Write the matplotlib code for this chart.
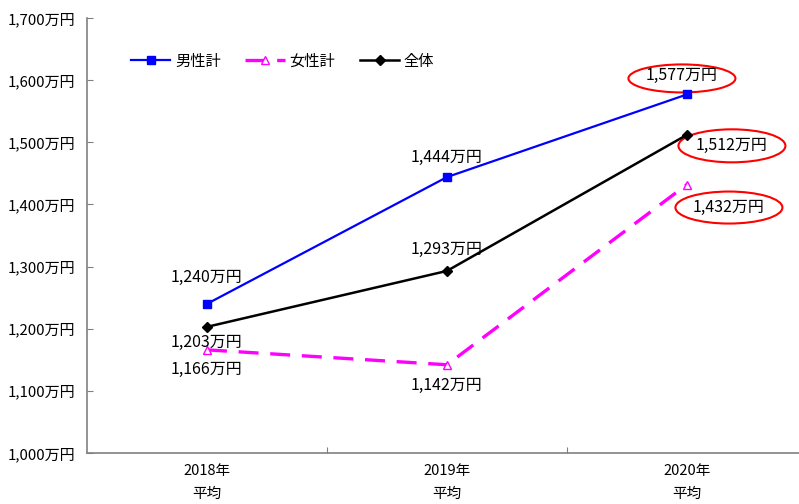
import matplotlib.pyplot as plt
from matplotlib.patches import Ellipse

plt.rcParams['font.family'] = ['Noto Sans CJK JP', 'DejaVu Sans']
plt.rcParams['font.size'] = 11

years = ['2018年\n平均', '2019年\n平均', '2020年\n平均']
male = [1240, 1444, 1577]
female = [1166, 1142, 1432]
total = [1203, 1293, 1512]
yticks = [1000, 1100, 1200, 1300, 1400, 1500, 1600, 1700]

fig = plt.figure(figsize=(7.99, 5.04), dpi=100)
ax = fig.add_axes([87 / 799, (504 - 453) / 504, 712 / 799, 435 / 504])

x = range(len(years))
ax.plot(x, male, color='#0000ff', lw=1.6, marker='s', ms=6, label='男性計')
ax.plot(x, female, color='#ff00ff', lw=2.4, dashes=(6, 3.5), marker='^', ms=6,
        mfc='white', mec='#ff00ff', mew=1, label='女性計')
ax.plot(x, total, color='black', lw=1.8, marker='D', ms=5.5, label='全体')

ax.set_xlim(-0.5, 2.467)
ax.set_ylim(1000, 1700)
ax.set_yticks(yticks)
ax.set_yticklabels([f'{v:,}万円' for v in yticks], fontsize=10.8)
ax.set_xticks([0.5, 1.5])
ax.set_xticklabels([])
ax.tick_params(axis='y', direction='in', length=4, color='#808080', pad=8.5)
ax.tick_params(axis='x', direction='in', length=4, color='#808080')
for i, lab in enumerate(years):
    ax.text(i, -0.025, lab, transform=ax.get_xaxis_transform(), ha='center',
            va='top', linespacing=1.85, fontsize=10.5)

for s in ['top', 'right']:
    ax.spines[s].set_visible(False)
for s in ['left', 'bottom']:
    ax.spines[s].set_color('#808080')
    ax.spines[s].set_linewidth(1.2)

# value labels (offsets in pixels from the marker)
labels = [
    (0, male[0], 0, 26), (0, total[0], 0, -16), (0, female[0], 0, -20),
    (1, male[1], 0, 20), (1, total[1], 0, 21), (1, female[1], 0, -21),
    (2, male[2], -5, 19), (2, total[2], 45, -11), (2, female[2], 42, -23),
]
for xi, v, dx, dy in labels:
    ax.annotate(f'{v:,}万円', (xi, v), xytext=(dx, dy), textcoords='offset pixels',
                ha='center', va='center', fontsize=11.5)

# red ellipses around the 2020 values
ppx = 240.0
ppy = 435 / 700
for xi, v, dx, dy, w, h in [(2, male[2], -5, 16, 107, 28),
                            (2, total[2], 45, -11, 107, 33),
                            (2, female[2], 42, -23, 107, 32)]:
    cx = xi + dx / ppx
    cy = v + dy / ppy
    ax.add_patch(Ellipse((cx, cy), w / ppx, h / ppy, fill=False,
                         ec='#ff0000', lw=1.5, clip_on=False))

ax.legend(loc='upper left', bbox_to_anchor=(0.042, 0.952), ncol=3, frameon=False,
          handlelength=2.6, columnspacing=1.6, fontsize=11, handletextpad=0.3)

fig.savefig('out.png', dpi=100)
